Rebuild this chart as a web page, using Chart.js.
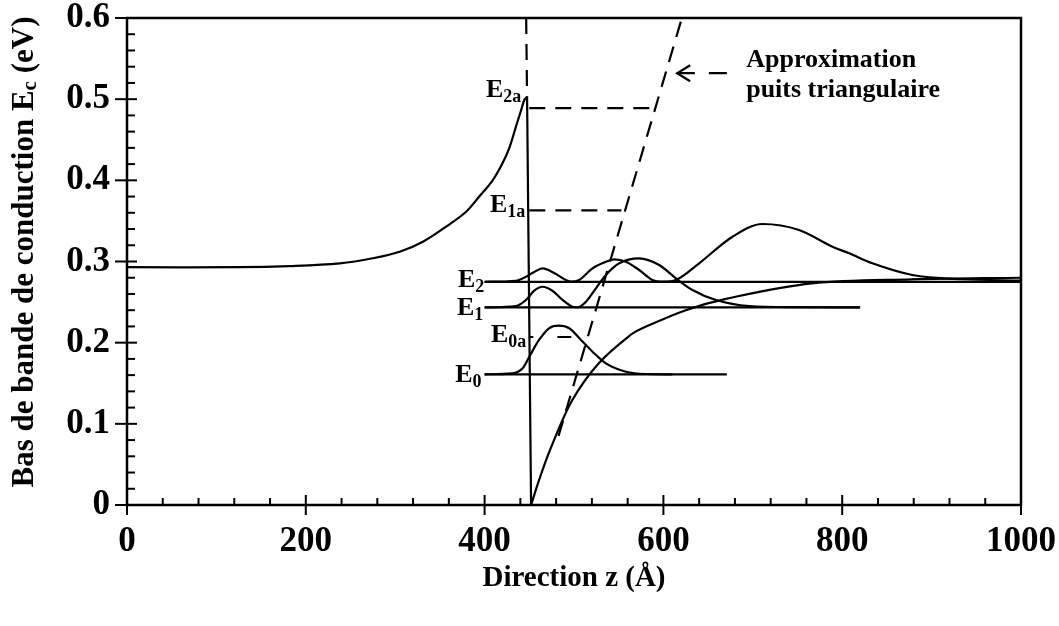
<!DOCTYPE html>
<html><head><meta charset="utf-8">
<script src="https://cdn.jsdelivr.net/npm/chart.js@4.4.1/dist/chart.umd.min.js"></script>
<style>html,body{margin:0;padding:0;background:#fff}</style>
</head><body>
<canvas id="c" width="1059" height="626"></canvas>
<script>
// ---- data ----
const xTickValues = [0, 200, 400, 600, 800, 1000];
const xTickLabels = ['0', '200', '400', '600', '800', '1000'];
const yTickValues = [0, 0.1, 0.2, 0.3, 0.4, 0.5, 0.6];
const yTickLabels = ['0', '0.1', '0.2', '0.3', '0.4', '0.5', '0.6'];

// conduction band edge
const bandLeftZ = [0, 126, 182, 238, 275, 305, 331, 357, 379, 394, 409, 420, 428, 435, 441, 444.4, 447.5];
const bandLeftE = [0.293, 0.293, 0.2944, 0.2978, 0.304, 0.312, 0.3244, 0.343, 0.361, 0.380, 0.400, 0.421, 0.441, 0.466, 0.487, 0.499, 0.503];
const wallZ = [447.5, 452];
const wallE = [0.503, 0];
const bandRightZ = [452, 461, 474, 498, 528, 565, 577, 625, 670, 766, 878, 1000];
const bandRightE = [0, 0.031, 0.070, 0.129, 0.175, 0.211, 0.218, 0.240, 0.254, 0.273, 0.278, 0.280];

// energy levels
const levelE = [0.161, 0.2435, 0.275];
const levelStartZ = [400, 400, 400];
const levelEndZ = [671, 820, 1000];

// probability densities drawn on each level
const psi0Z = [400, 431, 442.5, 450, 460.9, 472.1, 482.7, 494.7, 507.8, 520.7, 535.7, 558.1, 580.4, 610];
const psi0E = [0.161, 0.1622, 0.1684, 0.1827, 0.2033, 0.2177, 0.2209, 0.2177, 0.2033, 0.1889, 0.1745, 0.1642, 0.1614, 0.161];
const psi1Z = [400, 435, 446.3, 455.5, 464.8, 475.8, 487.2, 498.4, 504, 513.4, 524.5, 535.7, 550.6, 572.9, 595.3, 614, 632.5, 658.7, 695.9, 750, 820];
const psi1E = [0.2435, 0.2452, 0.2526, 0.264, 0.2689, 0.264, 0.2526, 0.2443, 0.2436, 0.2505, 0.267, 0.2834, 0.2978, 0.3039, 0.2957, 0.2793, 0.2649, 0.2526, 0.2452, 0.2438, 0.2435];
const psi2Z = [400, 435, 446.3, 455, 464.8, 479.8, 491, 497, 505.8, 520.7, 535.7, 545, 558.1, 572.9, 587.8, 600, 614, 640, 677.3, 710.8, 751.8, 789.1, 807.8, 833.8, 878.5, 934.4, 1000];
const psi2E = [0.275, 0.2763, 0.2813, 0.2868, 0.2916, 0.2846, 0.2772, 0.2751, 0.2772, 0.2916, 0.2997, 0.3027, 0.2997, 0.2895, 0.2772, 0.2751, 0.2772, 0.2978, 0.3305, 0.3462, 0.3388, 0.3182, 0.3101, 0.2978, 0.2834, 0.2781, 0.2765];

// dashed: triangular well approximation and its levels
const triZ = [482.7, 620.7];
const triE = [0.085, 0.6];
const topDashZ = [446.5, 447.5];
const topDashE = [0.6, 0.503];
const triLevelE = [0.207, 0.363, 0.489];
const triLevelStartZ = [450, 450, 450];
const triLevelEndZ = [497, 553, 592];
const arrowZ = [671, 615.4];
const arrowE = [0.532, 0.532];

// annotations (text + anchor in data units)
const levelLabels = [
  {main: 'E', sub: '0', z: 396.5, e: 0.152},
  {main: 'E', sub: '1', z: 398.5, e: 0.234},
  {main: 'E', sub: '2', z: 399.7, e: 0.269},
  {main: 'E', sub: '0a', z: 446.6, e: 0.201},
  {main: 'E', sub: '1a', z: 445.5, e: 0.361},
  {main: 'E', sub: '2a', z: 441, e: 0.503}
];
const noteLines = ['Approximation', 'puits triangulaire'];
const noteAnchor = {z: 692.6, e: [0.5396, 0.5027]};
const xTitle = 'Direction z (Å)';
const yTitleParts = {pre: 'Bas de bande de conduction E', sub: 'c', post: ' (eV)'};

// ---- chart ----
const FAM = '"Liberation Serif", "Times New Roman", Times, serif';
function pts(zs, es) { return zs.map((z, i) => ({x: z, y: Array.isArray(es) ? es[i] : es})); }
function ds(zs, es, extra) {
  return Object.assign({data: pts(zs, es), borderColor: '#000', borderWidth: 2.2, pointRadius: 0,
    fill: false, tension: 0}, extra || {});
}
const smooth = {cubicInterpolationMode: 'monotone'};
const bez = {tension: 0.35};
const dashed = {borderDash: [16, 10], borderWidth: 2.2};

const datasets = [
  ds(bandLeftZ, bandLeftE, bez),
  ds(wallZ, wallE),
  ds(bandRightZ, bandRightE, bez),
  ds(psi0Z, psi0E, smooth),
  ds(psi1Z, psi1E, smooth),
  ds(psi2Z, psi2E, smooth),
  ds(triZ, triE, dashed),
  ds(topDashZ, topDashE, dashed),
  ds(arrowZ, arrowE, {borderDash: [18, 14]})
];
levelE.forEach((e, i) => datasets.push(ds([levelStartZ[i], levelEndZ[i]], e)));
triLevelE.forEach((e, i) => datasets.push(ds([triLevelStartZ[i], triLevelEndZ[i]], e,
  i === 0 ? {borderDash: [4, 24, 14, 100]} : dashed)));

function subText(ctx, xRight, yBase, main, sub, mSize, sSize, drop) {
  ctx.font = 'bold ' + mSize + 'px ' + FAM;
  const wm = ctx.measureText(main).width;
  ctx.font = 'bold ' + sSize + 'px ' + FAM;
  const ws = ctx.measureText(sub).width;
  const x0 = xRight - wm - ws;
  ctx.textAlign = 'left';
  ctx.textBaseline = 'alphabetic';
  ctx.font = 'bold ' + mSize + 'px ' + FAM;
  ctx.fillText(main, x0, yBase);
  ctx.font = 'bold ' + sSize + 'px ' + FAM;
  ctx.fillText(sub, x0 + wm, yBase + drop);
}

const decor = {
  id: 'decor',
  afterDraw(chart) {
    const {ctx, chartArea: a, scales: {x, y}} = chart;
    ctx.save();
    ctx.strokeStyle = '#000';
    ctx.fillStyle = '#000';
    // frame
    ctx.lineWidth = 2.5;
    ctx.strokeRect(a.left, a.top, a.right - a.left, a.bottom - a.top);
    // ticks
    ctx.lineWidth = 2;
    for (let v = 0; v <= 1000; v += 40) {
      const px = x.getPixelForValue(v);
      const major = xTickValues.includes(v);
      ctx.beginPath();
      ctx.moveTo(px, a.bottom + (major ? 10 : 0));
      ctx.lineTo(px, a.bottom - (major ? 10 : 7));
      ctx.stroke();
    }
    for (let k = 0; k <= 30; k++) {
      const v = k * 0.02;
      const py = y.getPixelForValue(v);
      const major = k % 5 === 0;
      ctx.beginPath();
      ctx.moveTo(a.left - (major ? 12 : 0), py);
      ctx.lineTo(a.left + (major ? 10 : 8), py);
      ctx.stroke();
    }
    // arrow head
    const tx = x.getPixelForValue(arrowZ[1]), ty = y.getPixelForValue(arrowE[1]);
    ctx.lineWidth = 2.2;
    ctx.beginPath();
    ctx.moveTo(tx + 13, ty - 8); ctx.lineTo(tx, ty); ctx.lineTo(tx + 13, ty + 8);
    ctx.stroke();
    // level labels
    levelLabels.forEach(l => {
      subText(ctx, x.getPixelForValue(l.z), y.getPixelForValue(l.e), l.main, l.sub, 26, 18, 5);
    });
    // note
    ctx.font = 'bold 26px ' + FAM;
    ctx.textAlign = 'left';
    ctx.textBaseline = 'alphabetic';
    noteLines.forEach((t, i) => ctx.fillText(t, x.getPixelForValue(noteAnchor.z), y.getPixelForValue(noteAnchor.e[i])));
    // y title (rotated, with subscript)
    ctx.translate(25, 252);
    ctx.rotate(-Math.PI / 2);
    const mS = 31, sS = 21;
    ctx.font = 'bold ' + mS + 'px ' + FAM;
    const w1 = ctx.measureText(yTitleParts.pre).width;
    const w3 = ctx.measureText(yTitleParts.post).width;
    ctx.font = 'bold ' + sS + 'px ' + FAM;
    const w2 = ctx.measureText(yTitleParts.sub).width;
    const tot = w1 + w2 + w3;
    let cx = -tot / 2;
    ctx.textBaseline = 'middle';
    ctx.font = 'bold ' + mS + 'px ' + FAM;
    ctx.fillText(yTitleParts.pre, cx, 0); cx += w1;
    ctx.font = 'bold ' + sS + 'px ' + FAM;
    ctx.fillText(yTitleParts.sub, cx, 6); cx += w2;
    ctx.font = 'bold ' + mS + 'px ' + FAM;
    ctx.fillText(yTitleParts.post, cx, 0);
    ctx.restore();
  }
};

new Chart(document.getElementById('c'), {
  type: 'line',
  data: {datasets},
  options: {
    responsive: false, animation: false, devicePixelRatio: 1,
    layout: {padding: {left: 0, top: 18, right: 38, bottom: 0}},
    plugins: {legend: {display: false}, tooltip: {enabled: false}},
    elements: {line: {borderCapStyle: 'butt'}},
    scales: {
      x: {
        type: 'linear', min: 0, max: 1000,
        afterFit(s) { s.height = 121; s.paddingLeft = 0; s.paddingRight = 0; },
        afterBuildTicks(s) { s.ticks = xTickValues.map(v => ({value: v})); },
        grid: {display: false, drawTicks: false}, border: {display: false},
        ticks: {color: '#000', padding: 16, maxRotation: 0, autoSkip: false,
          font: {family: FAM, size: 35, weight: 'bold'},
          callback: (v) => xTickLabels[xTickValues.indexOf(v)]},
        title: {display: true, text: xTitle, color: '#000',
          font: {family: FAM, size: 29, weight: 'bold'}, padding: {top: 0, bottom: 30}}
      },
      y: {
        type: 'linear', min: 0, max: 0.6,
        afterFit(s) { s.width = 127; s.paddingTop = 0; s.paddingBottom = 0; },
        afterBuildTicks(s) { s.ticks = yTickValues.map(v => ({value: v})); },
        grid: {display: false, drawTicks: false}, border: {display: false},
        ticks: {color: '#000', padding: 17, autoSkip: false,
          font: {family: FAM, size: 35, weight: 'bold'},
          callback: (v) => yTickLabels[yTickValues.findIndex(t => Math.abs(t - v) < 1e-9)]}
      }
    }
  },
  plugins: [decor]
});
</script>
</body></html>
